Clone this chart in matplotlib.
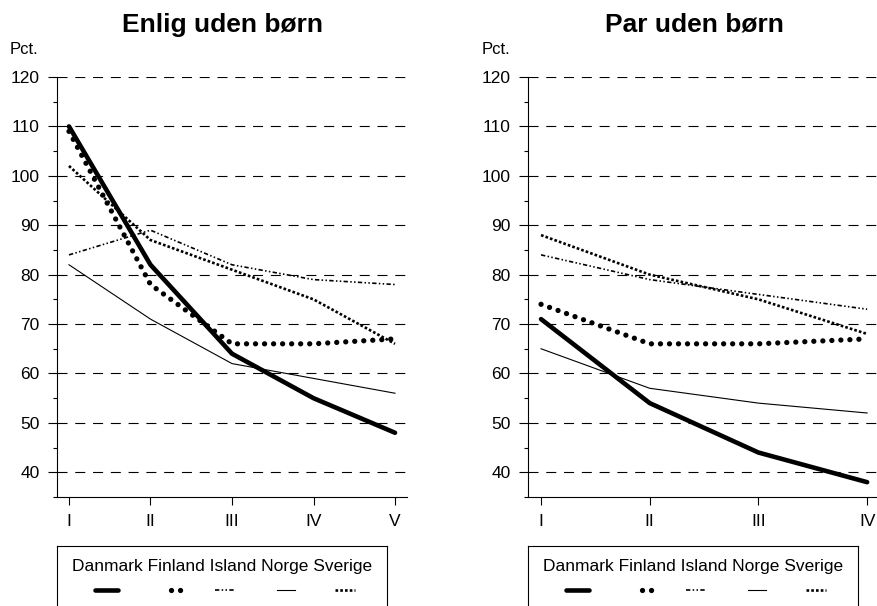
import numpy as np
import matplotlib.pyplot as plt
from matplotlib.lines import Line2D

plt.rcParams['font.family'] = ['Liberation Sans', 'DejaVu Sans']

lande = ['Danmark', 'Finland', 'Island', 'Norge', 'Sverige']
kvintiler = ['I', 'II', 'III', 'IV', 'V']
kvartiler = ['I', 'II', 'III', 'IV']

# Enlig uden børn, pct.
enlig_danmark = [110, 82, 64, 55, 48]
enlig_finland = [109, 78, 66, 66, 67]
enlig_island = [84, 89, 82, 79, 78]
enlig_norge = [82, 71, 62, 59, 56]
enlig_sverige = [102, 87, 81, 75, 66]

# Par uden børn, pct.
par_danmark = [71, 54, 44, 38]
par_finland = [74, 66, 66, 67]
par_island = [84, 79, 76, 73]
par_norge = [65, 57, 54, 52]
par_sverige = [88, 80, 75, 68]

stil = {
    'Danmark': dict(lw=3.3, ls='-', solid_capstyle='round'),
    'Finland': dict(lw=3.8, ls=(0, (0.01, 1.7)), dash_capstyle='round'),
    'Island': dict(lw=1.2, ls=(0, (2.6, 1.4, 0.9, 1.4, 0.9, 1.4))),
    'Norge': dict(lw=0.8, ls='-'),
    'Sverige': dict(lw=1.9, ls=(0, (1.0, 0.8))),
}

W, H = 878, 606
fig = plt.figure(figsize=(W / 100, H / 100), dpi=100)


def px_box(x0, x1, ytop, ybot):
    return [x0 / W, 1 - ybot / H, (x1 - x0) / W, (ybot - ytop) / H]


def panel(rect, labels, serier, xlim, titel, titel_x, pct_x, leg_rect):
    ax = fig.add_axes(rect)
    x = np.arange(1, len(labels) + 1)
    for land, y in zip(lande, serier):
        ax.plot(x, y, color='black', **stil[land], zorder=3)
    ax.set_xlim(*xlim)
    ax.set_ylim(35, 120)
    ax.set_xticks(x)
    ax.set_xticklabels(labels)
    ax.set_yticks(np.arange(40, 121, 10))
    ax.set_yticks(np.arange(35, 120, 10), minor=True)
    ax.set_axisbelow(True)
    ax.yaxis.grid(True, which='major', color='black', lw=0.8, ls=(0, (9, 7)))
    for s in ['top', 'right']:
        ax.spines[s].set_visible(False)
    for s in ['left', 'bottom']:
        ax.spines[s].set_linewidth(0.8)
    ax.tick_params(axis='y', which='major', length=6.5, width=0.8, labelsize=12.5, pad=6)
    ax.tick_params(axis='y', which='minor', length=3, width=0.8)
    ax.tick_params(axis='x', length=6, width=0.8, labelsize=12.5, pad=6)
    fig.text(titel_x / W, 1 - 25 / H, titel, ha='center', va='center',
             fontsize=19, fontweight='bold')
    fig.text(pct_x / W, 1 - 50 / H, 'Pct.', ha='left', va='center', fontsize=12)

    # legend box: labels on top, line samples below
    lg = fig.add_axes(leg_rect)
    lg.set_xlim(0, 330)
    lg.set_ylim(74, 0)
    lg.set_xticks([])
    lg.set_yticks([])
    for s in lg.spines.values():
        s.set_linewidth(0.8)
    lg.text(165, 21, ' '.join(lande), ha='center', va='center', fontsize=12.5)
    centre = [49.5, 119, 168, 229, 288]
    halv = [11.5, 5, 10, 9, 10]
    for land, c, h in zip(lande, centre, halv):
        lg.add_line(Line2D([c - h, c + h], [44, 44], color='black', **stil[land]))
    return ax


panel(px_box(57, 407, 77, 497), kvintiler,
      [enlig_danmark, enlig_finland, enlig_island, enlig_norge, enlig_sverige],
      (0.853, 5.147), 'Enlig uden børn', 222, 10,
      px_box(57, 387, 546, 620))

panel(px_box(528, 878, 77, 497), kvartiler,
      [par_danmark, par_finland, par_island, par_norge, par_sverige],
      (0.88, 4.10), 'Par uden børn', 694, 482,
      px_box(528, 858, 546, 620))

fig.savefig('out.png', dpi=100)
